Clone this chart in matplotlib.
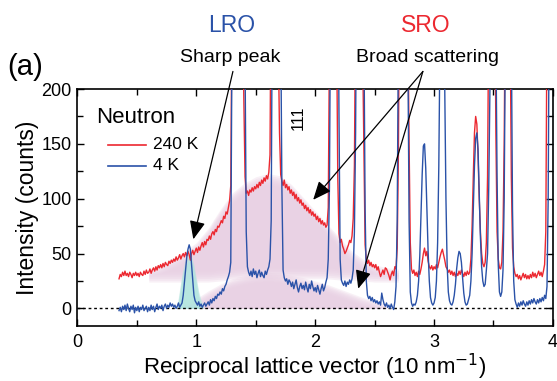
import numpy as np
import matplotlib.pyplot as plt

plt.rcParams['font.family'] = ['Liberation Sans', 'DejaVu Sans']

# reciprocal lattice vector grid, 0.35 .. 4.00 (10 nm^-1)
q = np.round(np.arange(35, 401) / 100, 2)

# neutron diffraction, 240 K
red_240K = [
    27, 31, 29, 33, 30,
    34, 30, 32, 29, 33, 31, 28, 32, 30, 33,
    30, 32, 29, 33, 31, 30, 34, 31, 35, 32,
    33, 36, 32, 35, 37, 34, 38, 35, 39, 37,
    40, 37, 41, 38, 42, 40, 39, 43, 41, 44,
    42, 45, 43, 47, 44, 46, 49, 45, 48, 50,
    47, 51, 48, 52, 49, 44, 50, 53, 49, 52,
    55, 51, 56, 53, 57, 60, 56, 61, 58, 63,
    62, 66, 63, 68, 70, 67, 72, 70, 75, 74,
    77, 80, 78, 84, 82, 88, 86, 92, 98, 112,
    260, 600, 900, 950, 980, 960, 900, 700, 450, 280,
    190, 120, 105, 107, 103, 108, 106, 110, 107, 111,
    109, 113, 110, 115, 112, 117, 114, 119, 116, 121,
    118, 124, 140, 320, 800, 950, 900, 650, 380, 240,
    160, 122, 116, 112, 117, 110, 113, 108, 111, 105,
    108, 103, 106, 100, 104, 98, 101, 96, 99, 94,
    96, 91, 94, 89, 92, 87, 90, 85, 88, 84,
    86, 81, 84, 79, 82, 77, 80, 76, 78, 74,
    76, 92, 240, 600, 800, 820, 700, 480, 260, 120,
    68, 60, 63, 57, 54, 50, 52, 55, 58, 62,
    60, 66, 82, 130, 280, 650, 800, 780, 600, 380,
    230, 140, 58, 45, 41, 44, 39, 42, 38, 40,
    37, 40, 35, 38, 33, 29, 32, 35, 31, 37,
    36, 33, 30, 26, 31, 34, 30, 38, 36, 55,
    140, 320, 800, 950, 980, 900, 700, 450, 260, 150,
    60, 36, 32, 35, 30, 33, 29, 34, 31, 36,
    42, 50, 55, 48, 52, 43, 38, 36, 39, 35,
    38, 36, 40, 37, 42, 47, 51, 54, 49, 44,
    38, 36, 33, 35, 31, 34, 30, 33, 29, 32,
    30, 34, 31, 35, 32, 29, 33, 30, 34, 31,
    33, 45, 75, 120, 160, 175, 168, 140, 100, 70,
    50, 41, 38, 42, 60, 120, 260, 600, 750, 700,
    550, 320, 160, 70, 45, 37, 36, 42, 70, 150,
    300, 600, 700, 550, 260, 120, 55, 38, 32, 29,
    31, 27, 30, 26, 29, 32, 28, 31, 27, 30,
    27, 31, 28, 33, 29, 32, 28, 31, 34, 30,
    33, 29, 34, 40, 70, 250, 600, 900, 950, 950,
    950,
]

# neutron diffraction, 4 K
blue_4K = [
    -2, 1, -3, 2, -1,
    3, -2, 4, 0, -3, 2, -1, 3, -4, 1,
    -2, 2, -3, 1, -1, 3, -2, 0, 2, -3,
    1, -2, 3, -1, 2, -3, 1, 4, -1, 2,
    0, 3, -2, 2, 4, 0, 3, 1, 5, 2,
    4, 1, 3, 0, 2, 5, 1, 3, 5, 12,
    24, 36, 47, 54, 58, 54, 40, 25, 12, 7,
    5, 3, 6, 2, 4, 1, 3, 5, 2, 4,
    6, 3, 8, 5, 9, 7, 11, 9, 13, 12,
    15, 13, 18, 16, 20, 22, 26, 29, 33, 42,
    240, 700, 1000, 1050, 1100, 1050, 1000, 900, 700, 500,
    330, 230, 70, 38, 33, 30, 34, 29, 36, 31,
    34, 28, 32, 35, 29, 33, 30, 28, 34, 31,
    35, 38, 45, 80, 300, 900, 1000, 1000, 850, 600,
    380, 260, 110, 35, 28, 25, 27, 22, 26, 24,
    20, 24, 18, 22, 26, 19, 15, 20, 23, 18,
    21, 17, 24, 19, 15, 22, 18, 25, 20, 16,
    19, 15, 21, 17, 13, 18, 22, 16, 19, 24,
    28, 45, 110, 300, 900, 1000, 950, 800, 550, 350,
    180, 45, 26, 23, 21, 25, 20, 24, 22, 26,
    23, 27, 35, 70, 160, 350, 900, 1000, 950, 750,
    450, 250, 90, 25, 12, 9, 11, 7, 10, 6,
    8, 5, 7, 4, 6, 3, 14, 8, 4, 2,
    5, 1, 3, 0, 4, 1, -1, 6, 20, 80,
    250, 700, 1000, 1100, 1000, 900, 700, 450, 230, 80,
    15, 5, 2, 4, 3, 6, 12, 25, 48, 85,
    122, 148, 150, 128, 90, 52, 25, 10, 5, 3,
    5, 10, 25, 60, 130, 250, 350, 380, 320, 200,
    100, 40, 15, 7, 4, 3, 6, 12, 22, 36,
    46, 52, 50, 42, 28, 14, 6, 3, 4, 8,
    12, 25, 50, 90, 130, 155, 160, 145, 105, 65,
    38, 25, 20, 22, 35, 50, 110, 200, 500, 900,
    800, 450, 250, 120, 40, 15, 11, 15, 35, 100,
    250, 700, 900, 850, 600, 250, 90, 25, 8, 4,
    1, 5, 2, 6, 3, 7, 4, 2, 6, 3,
    7, 4, 8, 5, 9, 6, 4, 8, 5, 9,
    6, 10, 7, 12, 9, 20, 100, 300, 800, 1000,
    1000,
]

# shaded guides: SRO humps (pink) and LRO peak (cyan)
sro_q = [0.6, 0.7, 0.8, 0.9, 1.0, 1.1, 1.2, 1.3, 1.4, 1.5, 1.6, 1.7,
         1.8, 1.9, 2.0, 2.1, 2.2, 2.3, 2.4, 2.5, 2.6, 2.7]
sro_hi_top = [31, 35, 41, 47, 55, 68, 85, 100, 109, 115, 118, 116,
              108, 96, 84, 72, 60, 48, 40, 35, 32, 31]
sro_hi_bot = [29, 29, 29, 29, 29, 29, 30, 31, 32, 32, 32, 32,
              32, 32, 32, 32, 31, 31, 30, 29, 29, 29]
sro_lo_q = [0.9, 1.0, 1.1, 1.2, 1.3, 1.4, 1.5, 1.6, 1.7, 1.8, 1.9,
            2.0, 2.1, 2.2, 2.3, 2.4, 2.5, 2.6]
sro_lo_top = [0, 5, 12, 18, 23, 26, 28, 29, 28, 26, 24,
              21, 18, 14, 10, 6, 3, 0]
lro_q = [0.84, 0.86, 0.88, 0.90, 0.92, 0.94, 0.96, 0.98, 1.00, 1.02, 1.04, 1.06]
lro_top = [0, 14, 28, 38, 44, 46, 44, 36, 24, 12, 4, 0]

RED = '#ec2830'
BLUE = '#2a52a8'
PINK = '#e9d0e3'
CYAN = '#b3e5df'


def soft_fill(ax, x, lo, hi, color, spread, n=7, alpha=0.3, fix_lo=False):
    x = np.asarray(x, float)
    lo = np.asarray(lo, float)
    hi = np.asarray(hi, float)
    for d in np.linspace(-spread, spread, n):
        a = lo if fix_lo else lo + d
        b = hi - d
        ax.fill_between(x, a, b, where=b > a, interpolate=True, color=color,
                        alpha=alpha, lw=0, zorder=1)


fig = plt.figure(figsize=(5.57, 3.81), dpi=100)
ax = fig.add_axes([0.139, 0.1444, 0.8537, 0.622])

soft_fill(ax, sro_q, sro_hi_bot, sro_hi_top, PINK, 5)
soft_fill(ax, sro_lo_q, np.zeros(len(sro_lo_q)), sro_lo_top, PINK, 4, fix_lo=True)
soft_fill(ax, lro_q, np.zeros(len(lro_q)), lro_top, CYAN, 4, fix_lo=True)

ax.axhline(0, color='k', lw=1, ls=(0, (2, 2)), zorder=2)
ax.plot(q, red_240K, color=RED, lw=1.0, zorder=3)
ax.plot(q, blue_4K, color=BLUE, lw=1.0, zorder=4)

ax.set_xlim(0, 4)
ax.set_ylim(-16, 200)
ax.set_xticks([0, 1, 2, 3, 4])
ax.set_xticks(np.arange(0.5, 4, 1), minor=True)
ax.set_yticks([0, 50, 100, 150, 200])
ax.set_yticks(np.arange(25, 200, 50), minor=True)
ax.tick_params(which='both', direction='in', top=True, right=True, width=1,
               labelsize=13)
ax.tick_params(which='major', length=5)
ax.tick_params(which='minor', length=4)
ax.tick_params(axis='x', pad=6)
ax.tick_params(axis='y', pad=4)
for s in ax.spines.values():
    s.set_linewidth(1.2)

ax.set_xlabel('Reciprocal lattice vector (10 nm$^{\u22121}$)', fontsize=16, labelpad=0)
ax.set_ylabel('Intensity (counts)', fontsize=16.5, labelpad=2)

# legend
ax.text(0.16, 174, 'Neutron', fontsize=16, va='center', ha='left')
ax.plot([0.26, 0.58], [149, 149], color=RED, lw=1.2)
ax.plot([0.26, 0.58], [130, 130], color=BLUE, lw=1.2)
ax.text(0.635, 149, '240 K', fontsize=12.5, va='center', ha='left')
ax.text(0.635, 130, '4 K', fontsize=12.5, va='center', ha='left')

ax.text(1.855, 174, '111', rotation=90, fontsize=11.5, ha='center', va='center')

# annotations above the axes
fig.text(232 / 557, 1 - 25 / 381, 'LRO', color=BLUE, fontsize=16.5, ha='center', va='center')
fig.text(426 / 557, 1 - 25 / 381, 'SRO', color=RED, fontsize=16.5, ha='center', va='center')
fig.text(230 / 557, 1 - 58 / 381, 'Sharp peak', fontsize=14, ha='center', va='center')
fig.text(427 / 557, 1 - 58 / 381, 'Broad scattering', fontsize=14, ha='center', va='center')
fig.text(7 / 557, 1 - 67 / 381, '(a)', fontsize=21, ha='left', va='center')

arrow = dict(arrowstyle='-|>,head_length=0.7,head_width=0.3', color='k', lw=0.9,
             mutation_scale=16, shrinkA=0, shrinkB=0)
ax.annotate('', xy=(0.975, 63), xytext=(1.308, 216), arrowprops=arrow,
            annotation_clip=False, zorder=6)
ax.annotate('', xy=(1.983, 99), xytext=(2.906, 216), arrowprops=arrow,
            annotation_clip=False, zorder=6)
ax.annotate('', xy=(2.362, 18), xytext=(2.906, 216), arrowprops=arrow,
            annotation_clip=False, zorder=6)

fig.savefig('out.png', dpi=100)
